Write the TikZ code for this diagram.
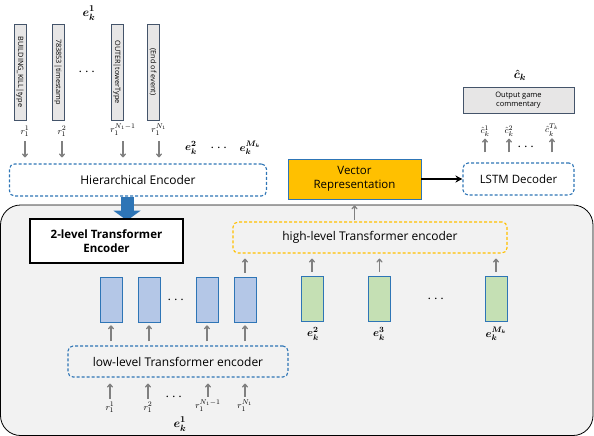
\documentclass[tikz,border=0pt]{standalone}
\usepackage{amsmath}
\usepackage{amssymb}
\usepackage{fontspec}
\setmainfont{Open Sans}
\usetikzlibrary{arrows.meta}

\definecolor{encblue}{HTML}{2E75B6}
\definecolor{hlyellow}{HTML}{FFC000}
\definecolor{lblue}{HTML}{B4C7E7}
\definecolor{lgreen}{HTML}{C5E0B4}
\definecolor{panelgray}{HTML}{F2F2F2}
\definecolor{boxgray}{HTML}{E7E6E6}
\definecolor{slate}{HTML}{44546A}

\begin{document}
\begin{tikzpicture}[x=1pt,y=-1pt,
    dashbox/.style={draw=encblue, dash pattern=on 3pt off 2pt, line width=1.1pt,
        rounded corners=5pt, inner sep=0pt, align=center, font=\fontsize{12}{14}\selectfont},
    evbox/.style={fill=boxgray, draw=slate, line width=0.6pt, rotate=-90,
        minimum width=96, minimum height=12, inner sep=0pt, font=\fontsize{7.3}{8}\selectfont},
    vecbar/.style={draw=encblue, line width=0.6pt, minimum width=22, minimum height=45, inner sep=0pt},
    garrow/.style={-{To[length=4pt,width=6pt]}, draw=gray, line width=1.3pt},
    mlab/.style={font=\boldmath\fontsize{11}{13}\selectfont, inner sep=0pt},
    rlab/.style={font=\fontsize{9.5}{11}\selectfont, inner sep=0pt},
    dots/.style={font=\Large, inner sep=0pt}
]
    \useasboundingbox (0,0) rectangle (594,436);

    % Input events
    \node[evbox] (ev1) at (20,72) {BUILDING\_KILL|type};
    \node[evbox] (ev2) at (58,72) {783853|timestamp};
    \node[evbox] (ev3) at (117,72) {OUTER|towerType};
    \node[evbox] (ev4) at (153,72) {(End of event)};
    \node[dots] (evdots) at (88,72) {$\cdots$};
    \node[mlab, font=\boldmath\fontsize{12.5}{14}\selectfont] (ek1top) at (89,13) {$e_k^1$};

    \node[rlab] (ra1) at (25,131) {$r_1^1$};
    \node[rlab] (ra2) at (62,131) {$r_1^2$};
    \node[rlab] (ra3) at (123,130) {$r_1^{N_1-1}$};
    \node[rlab] (ra4) at (159,130) {$r_1^{N_1}$};
    \node[mlab] (ek2top) at (191,148) {$e_k^2$};
    \node[dots] (topdots) at (220,148) {$\cdots$};
    \node[mlab] (ekMtop) at (250,148) {$e_k^{M_k}$};

    % Hierarchical encoder
    \node[dashbox, minimum width=257, minimum height=32] (hier) at (138,180) {Hierarchical Encoder};
    \foreach \r in {ra1,ra2,ra3,ra4}
        \draw[garrow, shorten <=5pt, shorten >=6pt] (\r.south) -- (\r.south |- hier.north);

    % 2-level panel
    \draw[fill=panelgray, line width=0.8pt, rounded corners=20pt] (0.5,205) rectangle (593,435.5);
    \draw[-{Triangle[length=10pt,width=27pt]}, encblue, line width=13pt]
        ([xshift=-11pt]hier.south) -- ([xshift=-11pt,yshift=-24pt]hier.south);
    \node[draw, fill=white, line width=1.2pt, minimum width=153, minimum height=44, inner sep=0pt,
        align=center, font=\bfseries\fontsize{11.5}{14}\selectfont] (twolev) at (106.5,241)
        {2-level Transformer\\Encoder};

    % Low level
    \node[vecbar, fill=lblue] (b1) at (111,299.5) {};
    \node[vecbar, fill=lblue] (b2) at (149,299.5) {};
    \node[vecbar, fill=lblue] (b3) at (207,299.5) {};
    \node[vecbar, fill=lblue] (b4) at (245,299.5) {};
    \node[dots] (bdots) at (177,300) {$\cdots$};
    \node[dashbox, minimum width=220, minimum height=31] (low) at (178,361.5)
        {low-level Transformer encoder};
    \foreach \b in {b1,b2,b3,b4}
        \draw[garrow, shorten <=4pt, shorten >=3pt] (\b.south |- low.north) -- (\b.south);

    \node[rlab] (rb1) at (110,407) {$r_1^1$};
    \node[rlab] (rb2) at (148,407) {$r_1^2$};
    \node[dots] (rbdots) at (175,397) {$\cdots$};
    \node[rlab] (rb3) at (208,406) {$r_1^{N_1-1}$};
    \node[rlab] (rb4) at (245,406) {$r_1^{N_1}$};
    \node[mlab, font=\boldmath\fontsize{12.5}{14}\selectfont] (ek1bot) at (180,424) {$e_k^1$};
    \foreach \r in {rb1,rb2,rb3,rb4}
        \draw[garrow, shorten <=3pt, shorten >=6pt] (\r.north) -- (\r.north |- low.south);

    % High level
    \node[vecbar, fill=lgreen] (g1) at (312,299) {};
    \node[vecbar, fill=lgreen] (g2) at (379.5,299) {};
    \node[vecbar, fill=lgreen] (g3) at (496,299) {};
    \node[dots] (gdots) at (437,299) {$\cdots$};
    \node[mlab] (ek2) at (313,334) {$e_k^2$};
    \node[mlab] (ek3) at (379,334) {$e_k^3$};
    \node[mlab] (ekM) at (496,334) {$e_k^{M_k}$};
    \node[dashbox, draw=hlyellow, minimum width=274, minimum height=31]
        (high) at (370,237.5) {high-level Transformer encoder};
    \foreach \g in {b4,g1,g2,g3}
        \draw[garrow, shorten <=4pt, shorten >=5pt] (\g.north) -- (\g.north |- high.south);

    % Decoder side
    \node[draw=encblue, fill=hlyellow, line width=0.8pt, minimum width=133, minimum height=40, inner sep=0pt,
        align=center, font=\fontsize{11.5}{14}\selectfont] (vec) at (354.5,179) {Vector\\Representation};
    \draw[garrow, shorten <=1pt, shorten >=6pt] (vec.south |- high.north) -- (vec.south);
    \node[dashbox, minimum width=111, minimum height=32, font=\fontsize{11.5}{14}\selectfont] (lstm) at (518.5,179) {LSTM Decoder};
    \draw[-{Stealth[length=7pt,width=7pt]}, line width=1.5pt] (vec) -- (lstm);

    \node[rlab] (c1) at (485,131) {$\hat{c}_k^1$};
    \node[rlab] (c2) at (509,131) {$\hat{c}_k^2$};
    \node[dots] (cdots) at (527,147) {$\cdots$};
    \node[rlab] (c3) at (552,130) {$\hat{c}_k^{T_k}$};
    \foreach \c in {c1,c2,c3}
        \draw[garrow, shorten <=10pt, shorten >=2pt] (\c.south |- lstm.north) -- (\c.south);

    \node[draw=slate, fill=boxgray, line width=0.8pt, minimum width=111, minimum height=26, inner sep=0pt,
        align=center, font=\fontsize{7.5}{9}\selectfont] (out) at (518.5,100) {Output game\\commentary};
    \node[mlab, font=\boldmath\fontsize{13}{15}\selectfont] (chat) at (520,75) {$\hat{c}_k$};
\end{tikzpicture}
\end{document}
